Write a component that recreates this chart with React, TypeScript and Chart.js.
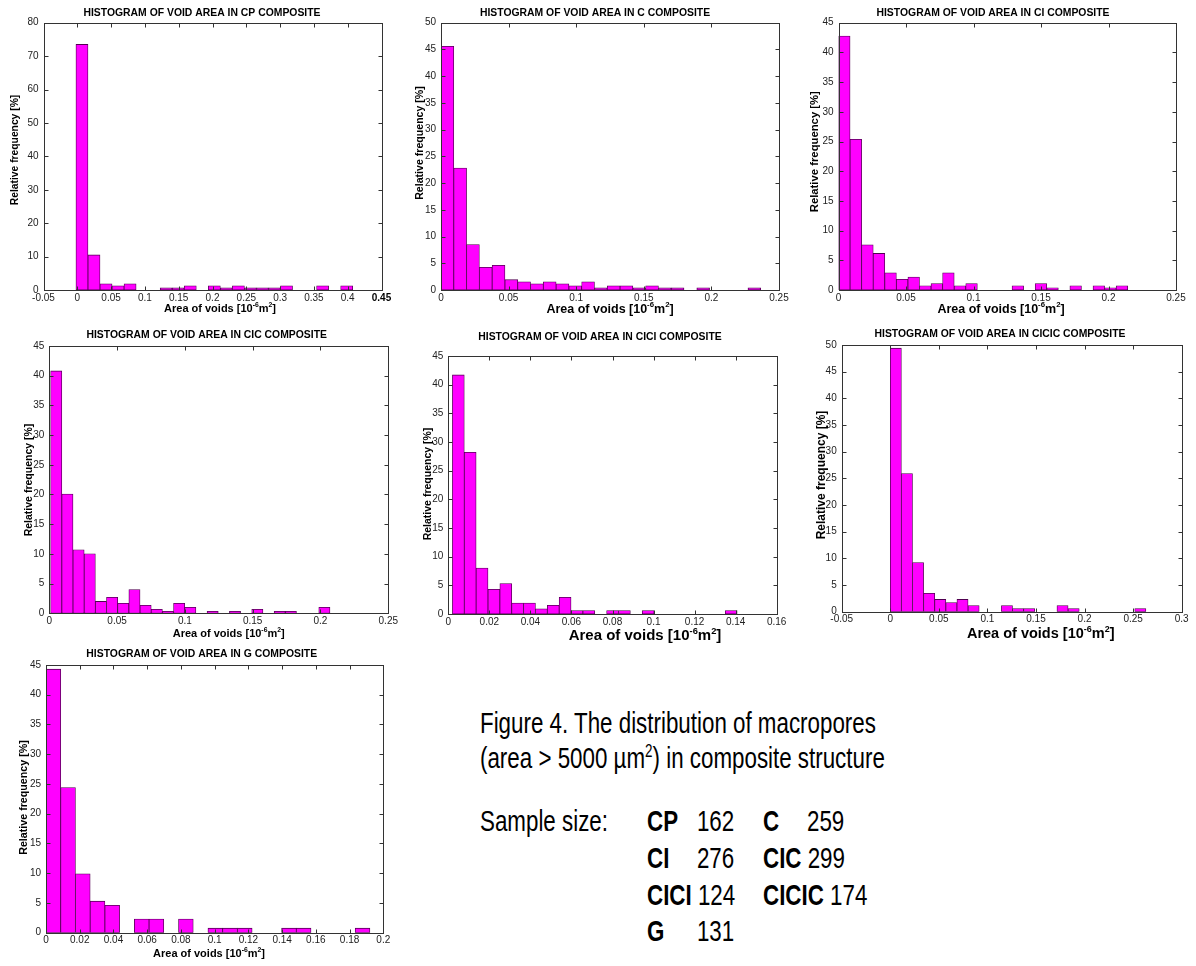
import React, { useEffect, useRef } from 'react';
import { Chart, registerables } from 'chart.js';

Chart.register(...registerables);

const FONT = "'Liberation Sans', Arial, Helvetica, sans-serif";
Chart.defaults.font.family = FONT;

// ---------------- DATA (relative frequency [%] per histogram bin) ----------------
const cpFreq = [73.5, 10.5, 1.85, 1.23, 1.85, 0, 0, 0.62, 0.62, 1.23, 0, 1.23, 0.62, 1.23, 0.62, 0.62, 0.62, 1.23, 0, 0, 1.23, 0, 1.23];
const cpBins = [-0.002, 0.0178]; // [first bin start, bin width]

const cFreq = [45.6, 22.8, 8.5, 4.25, 4.63, 1.93, 1.54, 1.16, 1.54, 1.16, 0.77, 1.54, 0.39, 0.77, 0.77, 0.39, 0.77, 0.39, 0.39, 0, 0.39, 0, 0, 0, 0.39];
const cBins = [0, 0.00946];

const ciFreq = [42.75, 25.36, 7.61, 6.16, 2.9, 1.81, 2.17, 0.72, 1.09, 2.9, 0.72, 1.09, 0, 0, 0, 0.72, 0, 1.09, 0.36, 0, 0.72, 0, 0.72, 0.36, 0.72];
const ciBins = [0, 0.00857];

const cicFreq = [40.8, 20.07, 10.7, 10.03, 2.0, 2.68, 1.67, 4.01, 1.34, 0.67, 0.33, 1.67, 1.0, 0, 0.33, 0, 0.33, 0, 0.67, 0, 0.33, 0.33, 0, 0, 1.0];
const cicBins = [0.001, 0.00824];

const ciciFreq = [41.7, 28.2, 8.0, 4.3, 5.3, 1.9, 1.9, 0.9, 1.5, 2.9, 0.6, 0.6, 0, 0.6, 0.6, 0, 0.6, 0, 0, 0, 0, 0, 0, 0.6];
const ciciBins = [0.002, 0.00578];

const cicicFreq = [49.4, 25.9, 9.2, 3.45, 2.3, 1.72, 2.3, 1.15, 0, 0, 1.15, 0.575, 0.575, 0, 0, 1.15, 0.575, 0, 0, 0, 0, 0, 0.575];
const cicicBins = [0, 0.01144];

const gFreq = [44.3, 24.4, 9.9, 5.3, 4.6, 0, 2.3, 2.3, 0, 2.3, 0, 0.76, 0.76, 0.76, 0, 0, 0.76, 0.76, 0, 0, 0, 0.76];
const gBins = [0, 0.00873];

// axis ranges: [min, max, step]
const cpXAxis = [-0.05, 0.45, 0.05];
const cXAxis = [0, 0.25, 0.05];
const ciXAxis = [0, 0.25, 0.05];
const cicXAxis = [0, 0.25, 0.05];
const ciciXAxis = [0, 0.16, 0.02];
const cicicXAxis = [-0.05, 0.3, 0.05];
const gXAxis = [0, 0.2, 0.02];

const cpYAxis = [0, 80, 10];
const cYAxis = [0, 50, 5];
const ciYAxis = [0, 45, 5];
const cicYAxis = [0, 45, 5];
const ciciYAxis = [0, 45, 5];
const cicicYAxis = [0, 50, 5];
const gYAxis = [0, 45, 5];

const sampleNames = ['CP', 'C', 'CI', 'CIC', 'CICI', 'CICIC', 'G'];
const sampleSizes = [162, 259, 276, 299, 124, 174, 131];

// ---------------- LAYOUT ----------------
type Panel = {
  id: string; name: string; freq: number[]; bins: number[]; xAxis: number[]; yAxis: number[];
  L: number; T: number; W: number; H: number; plot: number[];
  titleX: number; titleY: number; yTitleX: number; yTitleY: number; yTitleSize: number;
  xTitleX: number; xTitleY: number; xTitleSize: number; boldTick?: number;
};

const PANELS: Panel[] = [
  { id: 'cp', name: 'CP', freq: cpFreq, bins: cpBins, xAxis: cpXAxis, yAxis: cpYAxis,
    L: 0, T: 0, W: 395, H: 318, plot: [43.5, 22.7, 381.5, 290],
    titleX: 202, titleY: 12.7, yTitleX: 15, yTitleY: 150, yTitleSize: 10.3, xTitleX: 220, xTitleY: 308, xTitleSize: 11, boldTick: 0.45 },
  { id: 'c', name: 'C', freq: cFreq, bins: cBins, xAxis: cXAxis, yAxis: cYAxis,
    L: 400, T: 0, W: 395, H: 318, plot: [441, 22.7, 779, 290],
    titleX: 595, titleY: 12.7, yTitleX: 420, yTitleY: 143, yTitleSize: 10.6, xTitleX: 610, xTitleY: 308, xTitleSize: 12.5 },
  { id: 'ci', name: 'CI', freq: ciFreq, bins: ciBins, xAxis: ciXAxis, yAxis: ciYAxis,
    L: 800, T: 0, W: 396, H: 318, plot: [838.5, 22.7, 1176, 290],
    titleX: 993, titleY: 12.7, yTitleX: 815, yTitleY: 151.7, yTitleSize: 11.3, xTitleX: 1001, xTitleY: 308, xTitleSize: 12.5 },
  { id: 'cic', name: 'CIC', freq: cicFreq, bins: cicBins, xAxis: cicXAxis, yAxis: cicYAxis,
    L: 0, T: 320, W: 400, H: 325, plot: [49.3, 346, 388.5, 613.3],
    titleX: 206.7, titleY: 335, yTitleX: 29.3, yTitleY: 480, yTitleSize: 10.5, xTitleX: 228.7, xTitleY: 633, xTitleSize: 11 },
  { id: 'cici', name: 'CICI', freq: ciciFreq, bins: ciciBins, xAxis: ciciXAxis, yAxis: ciciYAxis,
    L: 400, T: 320, W: 395, H: 325, plot: [448.3, 356, 776.7, 614],
    titleX: 600, titleY: 336.7, yTitleX: 428.3, yTitleY: 484, yTitleSize: 10.5, xTitleX: 645, xTitleY: 635, xTitleSize: 15 },
  { id: 'cicic', name: 'CICIC', freq: cicicFreq, bins: cicicBins, xAxis: cicicXAxis, yAxis: cicicYAxis,
    L: 800, T: 320, W: 396, H: 325, plot: [841.7, 345, 1181.7, 611.7],
    titleX: 1000, titleY: 334, yTitleX: 821.7, yTitleY: 475, yTitleSize: 12, xTitleX: 1040.7, xTitleY: 633, xTitleSize: 14.5 },
  { id: 'g', name: 'G', freq: gFreq, bins: gBins, xAxis: gXAxis, yAxis: gYAxis,
    L: 0, T: 645, W: 400, H: 321, plot: [46, 665, 383.3, 932.7],
    titleX: 201.7, titleY: 654, yTitleX: 24, yTitleY: 797.5, yTitleSize: 10.7, xTitleX: 209, xTitleY: 953, xTitleSize: 11 },
];

// ---------------- PLUGINS ----------------
const matlabBox = {
  id: 'matlabBox',
  afterDatasetsDraw(chart: any) {
    const { ctx, chartArea: a, scales } = chart;
    ctx.save();
    ctx.strokeStyle = '#333';
    ctx.lineWidth = 1;
    const l = Math.round(a.left) + 0.5, t = Math.round(a.top) + 0.5;
    const r = Math.round(a.right) + 0.5, b = Math.round(a.bottom) + 0.5;
    ctx.strokeRect(l, t, r - l, b - t);
    const tl = 4;
    ctx.beginPath();
    scales.x.ticks.forEach((tk: any) => {
      const px = Math.round(scales.x.getPixelForValue(tk.value)) + 0.5;
      ctx.moveTo(px, b); ctx.lineTo(px, b - tl);
      ctx.moveTo(px, t); ctx.lineTo(px, t + tl);
    });
    scales.y.ticks.forEach((tk: any) => {
      const py = Math.round(scales.y.getPixelForValue(tk.value)) + 0.5;
      ctx.moveTo(l, py); ctx.lineTo(l + tl, py);
      ctx.moveTo(r, py); ctx.lineTo(r - tl, py);
    });
    ctx.stroke();
    ctx.restore();
  },
};

const panelText = {
  id: 'panelText',
  afterDraw(chart: any, _args: any, opts: any) {
    const ctx = chart.ctx;
    ctx.save();
    ctx.fillStyle = '#000';
    ctx.textBaseline = 'middle';
    ctx.textAlign = 'center';
    // chart title
    ctx.font = `bold ${opts.titleSize}px ${FONT}`;
    ctx.fillText(opts.title, opts.titleX, opts.titleY);

    // y-axis title (rotated)
    ctx.save();
    ctx.translate(opts.yTitleX, opts.yTitleY);
    ctx.rotate(-Math.PI / 2);
    ctx.font = `bold ${opts.yTitleSize}px ${FONT}`;
    ctx.fillText(opts.yTitle, 0, 0);
    ctx.restore();

    // x-axis title with superscripts
    const s = opts.xTitleSize;
    const segs: [string, boolean][] = [['Area of voids [10', false], ['-6', true], ['m', false], ['2', true], [']', false]];
    const fontFor = (sup: boolean) => `bold ${sup ? s * 0.62 : s}px ${FONT}`;
    let total = 0;
    segs.forEach(([t, sup]) => { ctx.font = fontFor(sup); total += ctx.measureText(t).width; });
    let x = opts.xTitleX - total / 2;
    ctx.textAlign = 'left';
    ctx.textBaseline = 'alphabetic';
    const base = opts.xTitleY + s * 0.36;
    segs.forEach(([t, sup]) => {
      ctx.font = fontFor(sup);
      ctx.fillText(t, x, sup ? base - s * 0.42 : base);
      x += ctx.measureText(t).width;
    });
    ctx.restore();
  },
};

const fmt = (v: any) => String(parseFloat(Number(v).toFixed(4)));

function buildConfig(p: Panel): any {
  const plotL = p.plot[0] - p.L, plotT = p.plot[1] - p.T, plotR = p.plot[2] - p.L, plotB = p.plot[3] - p.T;
  const [start, width] = p.bins;
  const points = p.freq.map((v, i) => ({ x: start + (i + 0.5) * width, y: v > 0 ? v : null }));
  const isBold = (c: any) => p.boldTick !== undefined && c.tick && Math.abs(c.tick.value - p.boldTick) < 1e-9;
  return {
    type: 'bar',
    data: {
      datasets: [{
        label: p.name,
        data: points,
        backgroundColor: '#ff00ff',
        borderColor: '#500050',
        borderWidth: 0.8,
        borderSkipped: false,
        barPercentage: 1,
        categoryPercentage: 1,
      }],
    },
    options: {
      responsive: false,
      maintainAspectRatio: false,
      animation: false,
      devicePixelRatio: 1,
      layout: { padding: { left: 0, top: plotT, right: p.W - plotR, bottom: 0 } },
      plugins: {
        legend: { display: false },
        tooltip: { enabled: false },
        title: { display: false },
        panelText: {
          title: `HISTOGRAM OF VOID AREA IN ${p.name} COMPOSITE`,
          titleSize: 10.4,
          titleX: p.titleX - p.L,
          titleY: p.titleY - p.T,
          yTitle: 'Relative frequency [%]',
          yTitleX: p.yTitleX - p.L,
          yTitleY: p.yTitleY - p.T,
          yTitleSize: p.yTitleSize,
          xTitleX: p.xTitleX - p.L,
          xTitleY: p.xTitleY - p.T,
          xTitleSize: p.xTitleSize,
        },
      },
      scales: {
        x: {
          type: 'linear',
          min: p.xAxis[0],
          max: p.xAxis[1],
          offset: false,
          grid: { display: false, drawTicks: false },
          border: { display: false },
          ticks: {
            stepSize: p.xAxis[2],
            autoSkip: false,
            maxRotation: 0,
            padding: 2,
            color: (c: any) => (isBold(c) ? '#000' : '#222'),
            font: (c: any) => ({ family: FONT, size: 10, weight: isBold(c) ? 'bold' : 'normal' }),
            callback: fmt,
          },
          afterFit: (sc: any) => { sc.height = p.H - plotB; },
        },
        y: {
          type: 'linear',
          min: p.yAxis[0],
          max: p.yAxis[1],
          grid: { display: false, drawTicks: false },
          border: { display: false },
          ticks: { stepSize: p.yAxis[2], padding: 5, color: '#222', font: { family: FONT, size: 10 }, callback: fmt },
          title: { display: false },
          afterFit: (sc: any) => { sc.width = plotL; },
        },
      },
    },
    plugins: [matlabBox, panelText],
  };
}

function HistogramPanel({ p }: { p: Panel }) {
  const ref = useRef<HTMLCanvasElement | null>(null);
  useEffect(() => {
    if (!ref.current) return;
    const chart = new Chart(ref.current, buildConfig(p));
    return () => chart.destroy();
  }, [p]);
  return (
    <canvas
      ref={ref}
      width={p.W}
      height={p.H}
      style={{ position: 'absolute', left: p.L, top: p.T, width: p.W, height: p.H }}
    />
  );
}

const textStyle: React.CSSProperties = {
  position: 'absolute',
  whiteSpace: 'nowrap',
  fontFamily: FONT,
  fontSize: 30,
  lineHeight: '30px',
  color: '#000',
  transform: 'scaleX(0.745)',
  transformOrigin: '0 0',
};

const colX = [646.7, 762.7];
const colLabelMin = [67, 59];
const rowTops = [806.3, 842.9, 879.6, 916.3];

function Caption() {
  return (
    <>
      <div style={{ ...textStyle, left: 480, top: 707.9 }}>Figure 4. The distribution of macropores</div>
      <div style={{ ...textStyle, left: 480, top: 742.9 }}>
        (area &gt; 5000 µm
        <span style={{ fontSize: 18, position: 'relative', top: -11 }}>2</span>
        ) in composite structure
      </div>
      <div style={{ ...textStyle, left: 480, top: 806.3 }}>Sample size:</div>
      {sampleNames.map((name, i) => {
        const row = Math.floor(i / 2), col = i % 2;
        return (
          <div key={name} style={{ ...textStyle, left: colX[col], top: rowTops[row] }}>
            <span style={{ display: 'inline-block', boxSizing: 'border-box', minWidth: colLabelMin[col], paddingRight: 8.3, fontWeight: 'bold' }}>{name}</span>
            <span>{sampleSizes[i]}</span>
          </div>
        );
      })}
    </>
  );
}

export default function App() {
  return (
    <div style={{ position: 'absolute', left: 0, top: 0, width: 1196, height: 966, background: '#fff', overflow: 'hidden' }}>
      {PANELS.map((p) => <HistogramPanel key={p.id} p={p} />)}
      <Caption />
    </div>
  );
}
